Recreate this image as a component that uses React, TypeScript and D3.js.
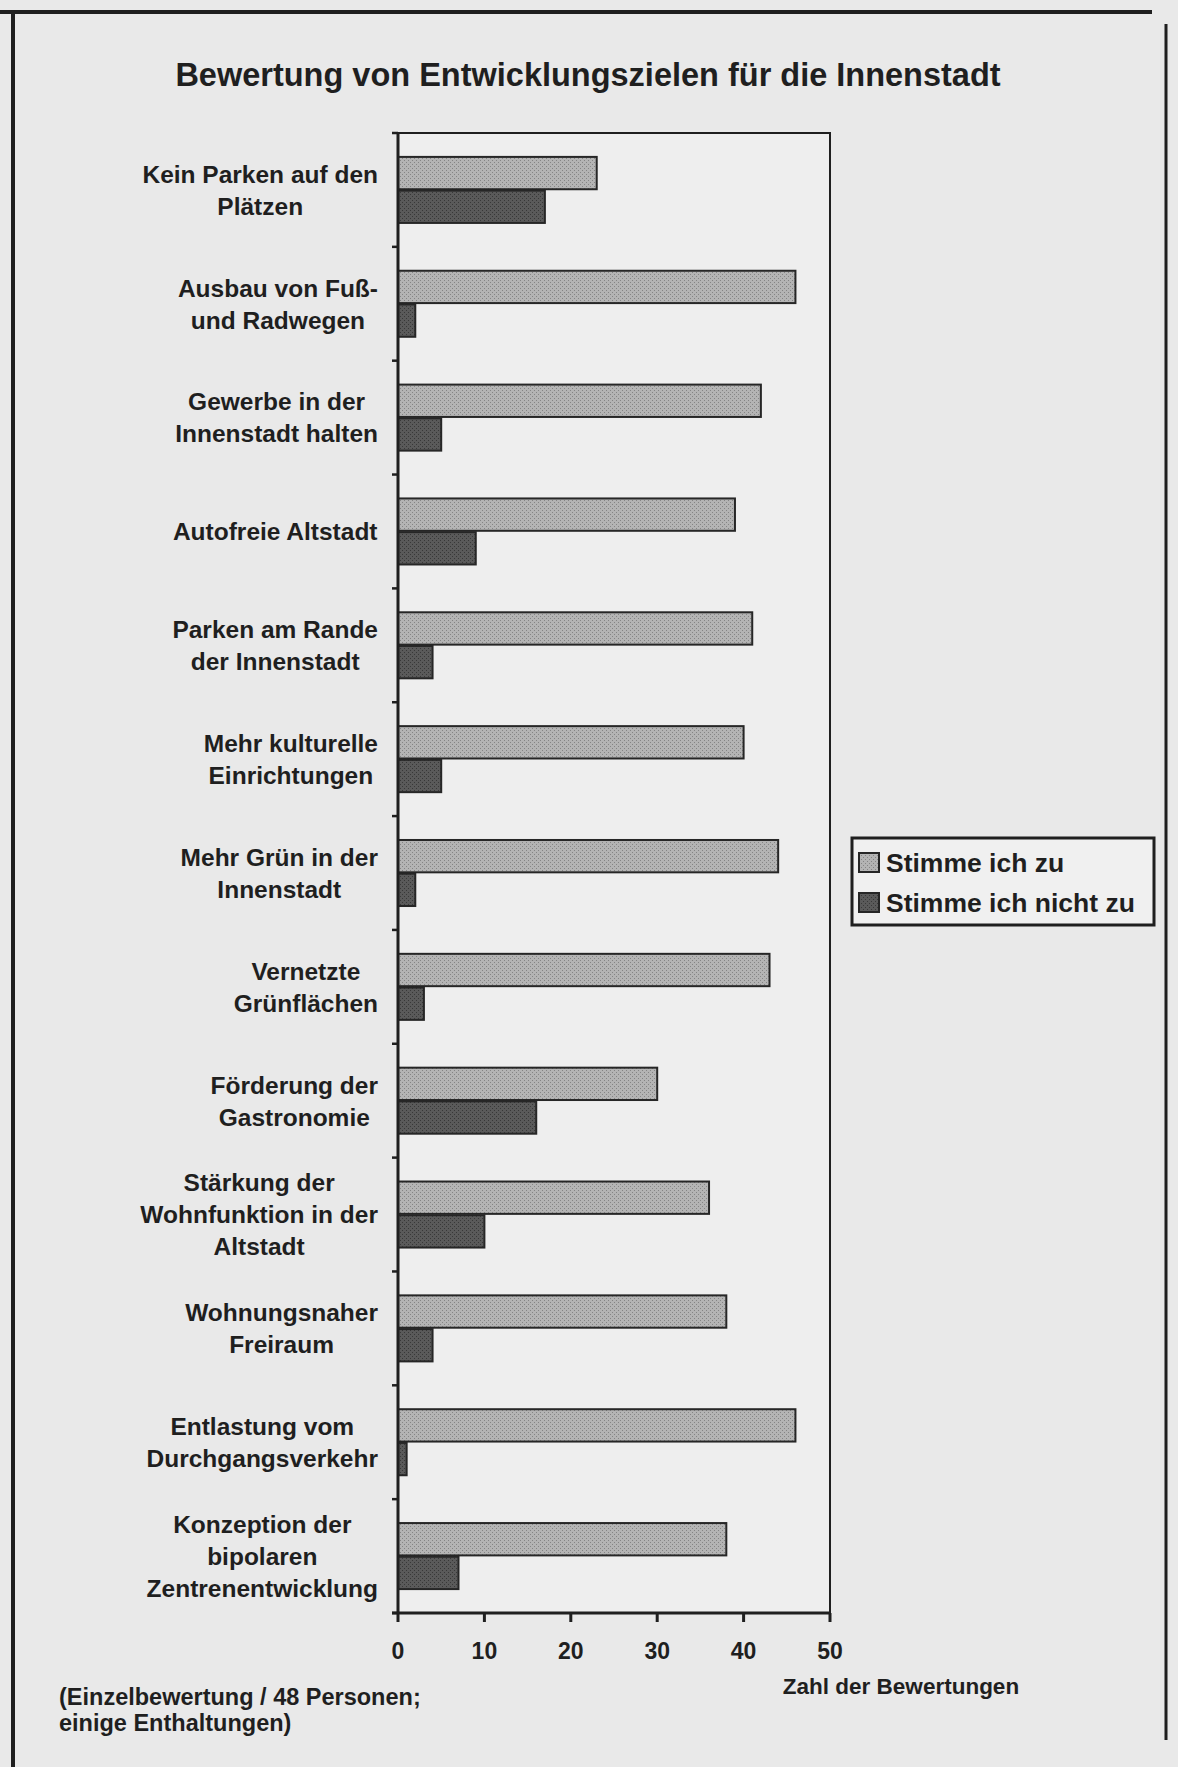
import { useMemo } from "react";
import * as d3 from "d3";

// goals, as wrapped in the original chart
const categories: string[][] = [
  ["Kein Parken auf den", "Plätzen"],
  ["Ausbau von Fuß-", "und Radwegen"],
  ["Gewerbe in der", "Innenstadt halten"],
  ["Autofreie Altstadt"],
  ["Parken am Rande", "der Innenstadt"],
  ["Mehr kulturelle", "Einrichtungen"],
  ["Mehr Grün in der", "Innenstadt"],
  ["Vernetzte", "Grünflächen"],
  ["Förderung der", "Gastronomie"],
  ["Stärkung der", "Wohnfunktion in der", "Altstadt"],
  ["Wohnungsnaher", "Freiraum"],
  ["Entlastung vom", "Durchgangsverkehr"],
  ["Konzeption der", "bipolaren", "Zentrenentwicklung"],
];

const agree = [23, 46, 42, 39, 41, 40, 44, 43, 30, 36, 38, 46, 38];
const disagree = [17, 2, 5, 9, 4, 5, 2, 3, 16, 10, 4, 1, 7];

const seriesNames = ["Stimme ich zu", "Stimme ich nicht zu"];
const xTicks = [0, 10, 20, 30, 40, 50];

const W = 1178;
const H = 1767;
const FONT = '"Liberation Sans", Arial, Helvetica, sans-serif';
const INK = "#1f1f1f";

const left = 398;
const right = 830;
const top = 133;
const bottom = 1613;

const labelSize = 24.5;
const lineGap = 32;
const labelRight = 378;

function measure(text: string, size: number) {
  const ctx = document.createElement("canvas").getContext("2d");
  if (!ctx) return text.length * size * 0.55;
  ctx.font = `bold ${size}px ${FONT}`;
  return ctx.measureText(text).width;
}

export default function App() {
  const x = d3.scaleLinear().domain([0, 50]).range([left, right]);
  const y = d3
    .scaleBand<number>()
    .domain(d3.range(categories.length))
    .range([top, bottom])
    .paddingInner(0.42)
    .paddingOuter(0.21);
  const inner = d3
    .scaleBand<number>()
    .domain([0, 1])
    .range([0, y.bandwidth()])
    .paddingInner(0.04);
  const step = y.step();

  const labelCenters = useMemo(
    () =>
      categories.map((lines) => {
        const w = d3.max(lines, (l) => measure(l, labelSize)) ?? 0;
        return labelRight - w / 2;
      }),
    []
  );

  const series = [agree, disagree];
  const fills = ["url(#light)", "url(#dark)"];
  const boundaries = d3.range(categories.length + 1).map((i) =>
    i === 0 ? top : (y(i - 1) ?? 0) + y.bandwidth() + (step - y.bandwidth()) / 2
  );

  return (
    <div style={{ position: "absolute", left: 0, top: 0 }}>
      <svg width={W} height={H} style={{ display: "block" }} fontFamily={FONT}>
        <defs>
          <pattern id="light" width={4} height={4} patternUnits="userSpaceOnUse">
            <rect width={4} height={4} fill="#b4b4b4" />
            <rect width={1} height={1} x={0} y={0} fill="#858585" />
            <rect width={1} height={1} x={2} y={2} fill="#858585" />
          </pattern>
          <pattern id="dark" width={4} height={4} patternUnits="userSpaceOnUse">
            <rect width={4} height={4} fill="#5a5a5a" />
            <rect width={1} height={1} x={0} y={0} fill="#383838" />
            <rect width={1} height={1} x={2} y={2} fill="#383838" />
          </pattern>
        </defs>

        <rect width={W} height={H} fill="#e9e9e9" />

        {/* page frame */}
        <line x1={0} x2={1152} y1={12} y2={12} stroke={INK} strokeWidth={4} />
        <line x1={13} x2={13} y1={10} y2={H} stroke={INK} strokeWidth={4} />
        <line x1={1166} x2={1166} y1={24} y2={1740} stroke={INK} strokeWidth={3} />

        <text
          x={588}
          y={86}
          textAnchor="middle"
          fontSize={32.5}
          fontWeight="bold"
          fill={INK}
        >
          Bewertung von Entwicklungszielen für die Innenstadt
        </text>

        {/* plot area */}
        <rect x={left} y={top} width={right - left} height={bottom - top} fill="#eeeeee" stroke={INK} strokeWidth={2} />

        {series.map((vals, s) =>
          vals.map((v, i) => (
            <rect
              key={`${s}-${i}`}
              x={x(0)}
              y={(y(i) ?? 0) + (inner(s) ?? 0)}
              width={x(v) - x(0)}
              height={inner.bandwidth()}
              fill={fills[s]}
              stroke="#262626"
              strokeWidth={2}
            />
          ))
        )}

        {/* category axis */}
        <line x1={left} x2={left} y1={top} y2={bottom} stroke={INK} strokeWidth={3} />
        {boundaries.map((b, i) => (
          <line key={i} x1={left - 6} x2={left} y1={b} y2={b} stroke={INK} strokeWidth={2.5} />
        ))}

        {categories.map((lines, i) => {
          const c = (y(i) ?? 0) + y.bandwidth() / 2;
          return (
            <text
              key={i}
              textAnchor="middle"
              fontSize={labelSize}
              fontWeight="bold"
              fill={INK}
            >
              {lines.map((l, k) => (
                <tspan
                  key={k}
                  x={labelCenters[i]}
                  y={c + (k - (lines.length - 1) / 2) * lineGap + labelSize * 0.36}
                >
                  {l}
                </tspan>
              ))}
            </text>
          );
        })}

        {/* value axis */}
        <line x1={left - 6} x2={right} y1={bottom} y2={bottom} stroke={INK} strokeWidth={3} />
        {xTicks.map((t) => (
          <g key={t}>
            <line x1={x(t)} x2={x(t)} y1={bottom} y2={bottom + 9} stroke={INK} strokeWidth={3} />
            <text x={x(t)} y={1659} textAnchor="middle" fontSize={23} fontWeight="bold" fill={INK}>
              {t}
            </text>
          </g>
        ))}
        <text x={901} y={1694} textAnchor="middle" fontSize={22.5} fontWeight="bold" fill={INK}>
          Zahl der Bewertungen
        </text>

        <text fontSize={23.5} fontWeight="bold" fill={INK}>
          <tspan x={59} y={1705}>(Einzelbewertung / 48 Personen;</tspan>
          <tspan x={59} y={1731}>einige Enthaltungen)</tspan>
        </text>

        {/* legend */}
        <rect x={852} y={838} width={302} height={87} fill="#f0f0f0" stroke={INK} strokeWidth={3} />
        {seriesNames.map((n, s) => (
          <g key={n} transform={`translate(859, ${853 + s * 40})`}>
            <rect width={20} height={19} fill={fills[s]} stroke="#262626" strokeWidth={2} />
            <text x={27} y={19} fontSize={26.5} fontWeight="bold" fill={INK}>
              {n}
            </text>
          </g>
        ))}
      </svg>
    </div>
  );
}
